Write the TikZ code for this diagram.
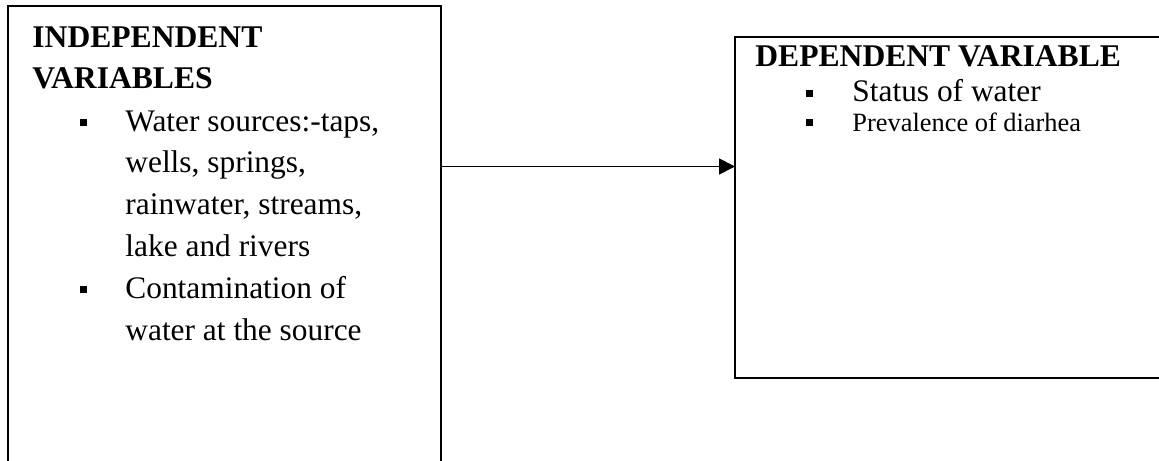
\documentclass[tikz,border=0pt]{standalone}
\usepackage{fontspec}
\setmainfont{Liberation Serif}
\usetikzlibrary{arrows.meta}
\begin{document}
\begin{tikzpicture}[x=0.5pt,y=-0.5pt,
  box/.style={draw, line width=0.9pt, inner sep=0pt, outer sep=0pt, anchor=north west},
  head/.style={anchor=base west, inner sep=0pt, font=\fontsize{15.8}{18}\selectfont\bfseries},
  body/.style={anchor=base west, inner sep=0pt, font=\fontsize{15.7}{18}\selectfont},
  small/.style={anchor=base west, inner sep=0pt, font=\fontsize{13.2}{15}\selectfont},
  bul/.style={fill, minimum size=3.8pt, inner sep=0pt, outer sep=0pt},
  link/.style={line width=0.9pt, -{Triangle[length=8pt,width=8pt]}}]
\useasboundingbox (0,0) rectangle (1159,460);
\fill[white] (0,0) rectangle (1159,460);
% boxes
\node[box, minimum width=216.5pt, minimum height=247pt] (L) at (8,6) {};
\node[box, minimum width=232.5pt, minimum height=170.5pt] (R) at (735,37) {};
% arrow
\coordinate (ay) at (600,166.5);
\draw[link] (L.east |- ay) -- (R.west |- ay);
% left texts
\node[head] (l1) at (32,48) {INDEPENDENT};
\node[head] (l2) at (32,89) {VARIABLES};
\node[bul] (b1) at (83.5,122.5) {};
\node[body] (l3) at (125,131) {Water sources:-taps,};
\node[body] (l4) at (125,172) {wells, springs,};
\node[body] (l5) at (125,214.5) {rainwater, streams,};
\node[body] (l6) at (125,256.5) {lake and rivers};
\node[bul] (b2) at (83.5,289.5) {};
\node[body] (l7) at (125,298) {Contamination of};
\node[body] (l8) at (125,340) {water at the source};
% right texts
\node[head] (r1) at (755,67) {DEPENDENT VARIABLE};
\node[bul] (b3) at (809.5,93.5) {};
\node[body] (r2) at (852,102) {Status of water};
\node[bul] (b4) at (809.5,122.5) {};
\node[small] (r3) at (852,131) {Prevalence of diarhea};
\end{tikzpicture}
\end{document}
